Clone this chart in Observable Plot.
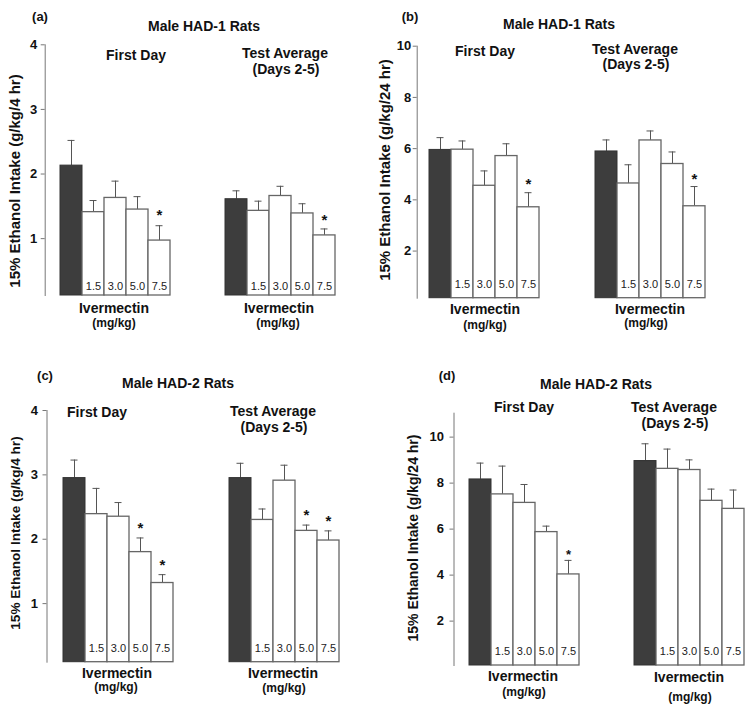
<!DOCTYPE html>
<html>
<head>
<meta charset="utf-8">
<script src="https://cdn.jsdelivr.net/npm/d3@7"></script>
<script src="https://cdn.jsdelivr.net/npm/@observablehq/plot@0.6"></script>
<style>
  html, body { margin: 0; padding: 0; background: #fff; }
  #fig { position: relative; width: 750px; height: 707px; overflow: hidden; font-family: "Liberation Sans", Arial, sans-serif; color: #111; }
  #fig svg { position: absolute; overflow: visible; background: transparent; }
  .t { position: absolute; transform: translate(-50%, -50%); white-space: nowrap; font-weight: bold; line-height: 1; }
  .yt { position: absolute; transform: translate(-50%, -50%) rotate(-90deg); white-space: nowrap; font-weight: bold; line-height: 1; }
</style>
</head>
<body>
<div id="fig"></div>
<script>
// ---------- data ----------
const doses = ["Vehicle", "1.5", "3.0", "5.0", "7.5"];
const doseLabels = ["", "1.5", "3.0", "5.0", "7.5"];

// (a) Male HAD-1, g/kg/4 hr
const aFirstMean = [2.13, 1.41, 1.63, 1.45, 0.97];
const aFirstTop  = [2.52, 1.59, 1.89, 1.65, 1.20];
const aFirstSig  = [0, 0, 0, 0, 1];
const aTestMean  = [1.61, 1.43, 1.66, 1.39, 1.05];
const aTestTop   = [1.74, 1.58, 1.81, 1.54, 1.15];
const aTestSig   = [0, 0, 0, 0, 1];

// (b) Male HAD-1, g/kg/24 hr
const bFirstMean = [5.95, 5.96, 4.55, 5.71, 3.71];
const bFirstTop  = [6.43, 6.30, 5.13, 6.19, 4.28];
const bFirstSig  = [0, 0, 0, 0, 1];
const bTestMean  = [5.89, 4.64, 6.32, 5.40, 3.75];
const bTestTop   = [6.34, 5.37, 6.69, 5.87, 4.52];
const bTestSig   = [0, 0, 0, 0, 1];

// (c) Male HAD-2, g/kg/4 hr
const cFirstMean = [2.95, 2.39, 2.35, 1.80, 1.32];
const cFirstTop  = [3.23, 2.79, 2.57, 2.02, 1.45];
const cFirstSig  = [0, 0, 0, 1, 1];
const cTestMean  = [2.95, 2.30, 2.91, 2.13, 1.98];
const cTestTop   = [3.18, 2.47, 3.15, 2.22, 2.13];
const cTestSig   = [0, 0, 0, 1, 1];

// (d) Male HAD-2, g/kg/24 hr
const dFirstMean = [8.16, 7.51, 7.14, 5.87, 4.03];
const dFirstTop  = [8.87, 8.74, 7.94, 6.13, 4.64];
const dFirstSig  = [0, 0, 0, 0, 1];
const dTestMean  = [8.96, 8.62, 8.57, 7.23, 6.88];
const dTestTop   = [9.71, 9.48, 9.01, 7.74, 7.70];
const dTestSig   = [0, 0, 0, 0, 0];

const ticks4 = [1, 2, 3, 4];
const ticks10 = [2, 4, 6, 8, 10];

// ---------- drawing ----------
const fig = document.getElementById("fig");
const DARK = "#3d3d3d";

function groupPlot(means, tops, sig, o) {
  const data = doses.map((d, i) => ({dose: d, mean: means[i], top: tops[i], sig: sig[i], label: doseLabels[i]}));
  const svg = Plot.plot({
    width: o.width, height: o.height,
    marginLeft: o.ml, marginRight: o.mr, marginTop: o.mt, marginBottom: o.mb,
    style: {fontFamily: "'Liberation Sans', Arial, sans-serif", fontSize: "13px", fontWeight: "bold", color: "#111", background: "transparent", overflow: "visible"},
    x: {type: "band", domain: doses, padding: 0, insetLeft: o.inset || 0, axis: null},
    y: o.axis
      ? {domain: o.yDomain, ticks: o.ticks, axis: "left", line: true, tickSize: 4, tickPadding: o.tickPadding, tickFormat: d3.format("d"), label: null}
      : {domain: o.yDomain, axis: null},
    marks: [
      Plot.ruleX(data, {x: "dose", y1: "mean", y2: "top", stroke: "#555", strokeWidth: 1}),
      Plot.tickY(data, {x: "dose", y: "top", insetLeft: 7.5, insetRight: 7.5, stroke: "#555", strokeWidth: 1}),
      Plot.barY(data.filter(d => d.dose === "Vehicle"), {x: "dose", y1: o.yDomain[0], y2: "mean", fill: DARK, stroke: "#333", strokeWidth: 1}),
      Plot.barY(data.filter(d => d.dose !== "Vehicle"), {x: "dose", y1: o.yDomain[0], y2: "mean", fill: "white", stroke: "#666", strokeWidth: 1.3}),
      Plot.text(data.filter(d => d.label), {x: "dose", frameAnchor: "bottom", lineAnchor: "bottom", dy: o.labelDy, text: "label", fontSize: 11, fontWeight: "normal", fill: "#222"}),
      Plot.text(data.filter(d => d.sig), {x: "dose", y: "top", text: () => "*", lineAnchor: "bottom", dy: o.starDy, fontSize: o.starSize, fontWeight: "bold", fill: "#111"})
    ]
  });
  // grey axis line and ticks, as in the reference
  svg.querySelectorAll('[aria-label="y-axis tick"], [aria-label="y-axis line"], [aria-label="frame"]').forEach(g => {
    g.setAttribute("stroke", "#777");
    g.querySelectorAll("*").forEach(e => { if (e.getAttribute("stroke")) e.setAttribute("stroke", "#777"); });
  });
  svg.style.left = o.left + "px";
  svg.style.top = o.top + "px";
  fig.appendChild(svg);
}

function txt(s, x, y, size, cls = "t") {
  const el = document.createElement("div");
  el.className = cls;
  el.textContent = s;
  el.style.left = x + "px";
  el.style.top = y + "px";
  el.style.fontSize = size + "px";
  fig.appendChild(el);
}

// Panel (a)
const aY = [0.12, 4];
groupPlot(aFirstMean, aFirstTop, aFirstSig, {left: 0, top: 0, width: 180, height: 340, ml: 44.7, mr: 10, mt: 44.3, mb: 45, inset: 14.3, yDomain: aY, axis: true, ticks: ticks4, tickPadding: 4, labelDy: -6, starDy: -6, starSize: 15});
groupPlot(aTestMean, aTestTop, aTestSig, {left: 210, top: 0, width: 140, height: 340, ml: 14.7, mr: 14.7, mt: 44.3, mb: 45, yDomain: aY, axis: false, labelDy: -6, starDy: -4, starSize: 15});

// Panel (b)
const bY = [0.16, 10];
groupPlot(bFirstMean, bFirstTop, bFirstSig, {left: 375, top: 0, width: 175, height: 340, ml: 41.7, mr: 10.3, mt: 45.7, mb: 42.3, inset: 12.3, yDomain: bY, axis: true, ticks: ticks10, tickPadding: 2, labelDy: -10, starDy: -4, starSize: 15});
groupPlot(bTestMean, bTestTop, bTestSig, {left: 580, top: 0, width: 140, height: 340, ml: 14.7, mr: 14.7, mt: 45.7, mb: 42.3, yDomain: bY, axis: false, labelDy: -10, starDy: -3, starSize: 15});

// Panel (c)
const cY = [0.09, 4];
groupPlot(cFirstMean, cFirstTop, cFirstSig, {left: 0, top: 340, width: 185, height: 367, ml: 46.5, mr: 12, mt: 70, mb: 45.3, inset: 15.8, yDomain: cY, axis: true, ticks: ticks4, tickPadding: 5, labelDy: -10, starDy: -5, starSize: 15});
groupPlot(cTestMean, cTestTop, cTestSig, {left: 215, top: 340, width: 140, height: 367, ml: 13.3, mr: 16.3, mt: 70, mb: 45.3, yDomain: cY, axis: false, labelDy: -10, starDy: -5, starSize: 15});

// Panel (d)
const dY = [0.07, 11.04];
groupPlot(dFirstMean, dFirstTop, dFirstSig, {left: 410, top: 340, width: 180, height: 367, ml: 43.5, mr: 11.2, mt: 72.7, mb: 42, inset: 14.8, yDomain: dY, axis: true, ticks: ticks10, tickPadding: 6, labelDy: -11, starDy: -1, starSize: 13});
groupPlot(dTestMean, dTestTop, dTestSig, {left: 620, top: 340, width: 130, height: 367, ml: 13.3, mr: 5.8, mt: 72.7, mb: 42, yDomain: dY, axis: false, labelDy: -11, starDy: -1, starSize: 13});

// ---------- text ----------
// (a)
txt("(a)", 40, 16, 13);
txt("Male HAD-1 Rats", 204, 26, 14);
txt("First Day", 136, 55, 14);
txt("Test Average", 285, 52.5, 14);
txt("(Days 2-5)", 286, 69, 14);
txt("Ivermectin", 114, 307.5, 14);
txt("(mg/kg)", 114, 323, 12);
txt("Ivermectin", 279, 307.5, 14);
txt("(mg/kg)", 278, 323, 12);
txt("15% Ethanol Intake (g/kg/4 hr)", 13.5, 181, 15, "yt");
// (b)
txt("(b)", 410, 16, 13);
txt("Male HAD-1 Rats", 559, 24, 14);
txt("First Day", 485, 51, 14);
txt("Test Average", 635, 48.5, 14);
txt("(Days 2-5)", 636, 64, 14);
txt("Ivermectin", 485, 309, 14);
txt("(mg/kg)", 485, 325, 12);
txt("Ivermectin", 650, 309, 14);
txt("(mg/kg)", 646, 323, 12);
txt("15% Ethanol Intake (g/kg/24 hr)", 384, 170, 15, "yt");
// (c)
txt("(c)", 45, 375, 13);
txt("Male HAD-2 Rats", 178, 383, 14);
txt("First Day", 97, 412, 14);
txt("Test Average", 273, 411, 14);
txt("(Days 2-5)", 274, 427, 14);
txt("Ivermectin", 117, 673, 14);
txt("(mg/kg)", 116, 687, 12);
txt("Ivermectin", 283, 673, 14);
txt("(mg/kg)", 284, 688, 12);
txt("15% Ethanol Intake (g/kg/4 hr)", 16, 533, 13.6, "yt");
// (d)
txt("(d)", 447, 375, 13);
txt("Male HAD-2 Rats", 596, 384, 14);
txt("First Day", 524, 407, 14);
txt("Test Average", 674, 407, 14);
txt("(Days 2-5)", 675, 423, 14);
txt("Ivermectin", 523, 676, 14);
txt("(mg/kg)", 524, 692, 12);
txt("Ivermectin", 689, 677, 14);
txt("(mg/kg)", 690, 697, 12);
txt("15% Ethanol Intake (g/kg/24 hr)", 412.5, 537.5, 14, "yt");
</script>
</body>
</html>
